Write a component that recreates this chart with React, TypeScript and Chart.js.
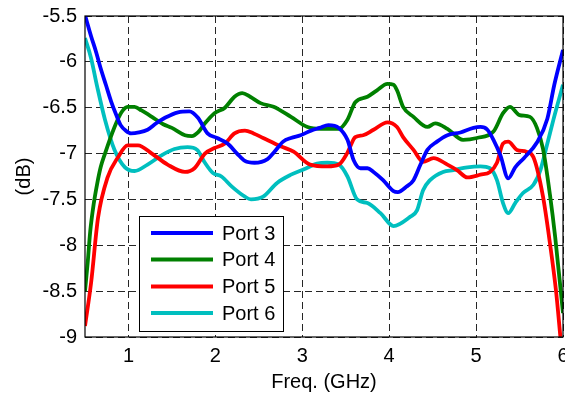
import React, { useEffect, useRef } from "react";
import { Chart, registerables } from "chart.js";

Chart.register(...registerables);

const xTickValues = [1, 2, 3, 4, 5, 6];
const yTickValues = [-9, -8.5, -8, -7.5, -7, -6.5, -6, -5.5];

const seriesLabels = ["Port 3", "Port 4", "Port 5", "Port 6"];
const seriesColors = ["#0000FF", "#008000", "#FF0000", "#00BFBF"];

const port3Freq = [0.5, 0.57, 0.63, 0.68, 0.74, 0.8, 0.86, 0.91, 0.97, 1.03, 1.12, 1.22, 1.32, 1.42, 1.57, 1.7, 1.8, 1.91, 2.02, 2.14, 2.25, 2.34, 2.45, 2.6, 2.68, 2.78, 2.87, 2.98, 3.1, 3.2, 3.3, 3.42, 3.52, 3.59, 3.67, 3.75, 3.82, 3.93, 4.05, 4.1, 4.2, 4.28, 4.36, 4.44, 4.55, 4.67, 4.82, 4.97, 5.05, 5.13, 5.2, 5.28, 5.37, 5.45, 5.55, 5.7, 5.82, 5.9, 6.0];
const port3Vals = [-5.49, -5.72, -5.9, -6.07, -6.25, -6.43, -6.58, -6.69, -6.75, -6.78, -6.77, -6.74, -6.67, -6.61, -6.55, -6.54, -6.61, -6.78, -6.83, -6.89, -7.0, -7.08, -7.1, -7.06, -6.98, -6.87, -6.83, -6.8, -6.75, -6.72, -6.69, -6.72, -6.85, -7.07, -7.16, -7.16, -7.2, -7.29, -7.41, -7.42, -7.36, -7.29, -7.12, -6.96, -6.87, -6.8, -6.77, -6.72, -6.71, -6.74, -6.85, -7.02, -7.27, -7.15, -7.05, -6.88, -6.62, -6.25, -5.87];

const port4Freq = [0.5, 0.53, 0.56, 0.6, 0.64, 0.68, 0.73, 0.84, 0.92, 0.99, 1.07, 1.15, 1.27, 1.4, 1.5, 1.65, 1.73, 1.8, 1.88, 1.99, 2.11, 2.22, 2.31, 2.4, 2.52, 2.67, 2.87, 3.06, 3.21, 3.42, 3.52, 3.61, 3.75, 3.86, 3.98, 4.05, 4.09, 4.16, 4.28, 4.44, 4.53, 4.67, 4.85, 5.01, 5.2, 5.31, 5.39, 5.5, 5.62, 5.7, 5.77, 5.85, 5.91, 6.0];
const port4Vals = [-8.5, -8.2, -7.85, -7.55, -7.33, -7.15, -7.0, -6.71, -6.55, -6.49, -6.49, -6.53, -6.6, -6.68, -6.72, -6.8, -6.81, -6.77, -6.67, -6.56, -6.5, -6.38, -6.34, -6.38, -6.45, -6.49, -6.6, -6.71, -6.73, -6.73, -6.63, -6.44, -6.38, -6.31, -6.24, -6.25, -6.31, -6.49, -6.6, -6.71, -6.67, -6.73, -6.85, -6.83, -6.76, -6.56, -6.49, -6.58, -6.6, -6.72, -6.95, -7.45, -7.91, -8.74];

const port5Freq = [0.5, 0.57, 0.65, 0.76, 0.88, 0.99, 1.11, 1.27, 1.45, 1.65, 1.76, 1.88, 1.99, 2.11, 2.22, 2.34, 2.44, 2.55, 2.75, 2.9, 3.09, 3.29, 3.42, 3.52, 3.61, 3.7, 3.82, 3.98, 4.09, 4.16, 4.28, 4.39, 4.51, 4.67, 4.78, 4.9, 5.05, 5.16, 5.24, 5.31, 5.37, 5.47, 5.58, 5.66, 5.77, 5.85, 5.92, 5.97];
const port5Vals = [-8.88, -8.41, -7.7, -7.26, -7.04, -6.91, -6.91, -7.0, -7.12, -7.2, -7.16, -7.0, -6.94, -6.89, -6.78, -6.75, -6.78, -6.83, -6.92, -6.98, -7.12, -7.14, -7.12, -6.99, -6.82, -6.8, -6.74, -6.66, -6.71, -6.82, -6.96, -7.09, -7.05, -7.12, -7.18, -7.26, -7.23, -7.2, -7.1, -6.89, -6.87, -6.96, -6.98, -7.04, -7.47, -7.98, -8.5, -9.0];

const port6Freq = [0.5, 0.57, 0.64, 0.73, 0.84, 0.96, 1.07, 1.22, 1.38, 1.53, 1.68, 1.79, 1.88, 1.97, 2.07, 2.19, 2.34, 2.41, 2.55, 2.71, 2.87, 3.02, 3.17, 3.29, 3.42, 3.52, 3.63, 3.75, 3.9, 4.05, 4.24, 4.32, 4.39, 4.47, 4.62, 4.74, 4.9, 5.05, 5.16, 5.24, 5.31, 5.37, 5.45, 5.54, 5.66, 5.74, 5.82, 5.89, 6.0];
const port6Vals = [-5.74, -5.96, -6.27, -6.63, -6.96, -7.15, -7.19, -7.12, -7.02, -6.95, -6.93, -6.96, -7.1, -7.21, -7.25, -7.36, -7.47, -7.5, -7.47, -7.32, -7.23, -7.17, -7.11, -7.1, -7.12, -7.25, -7.5, -7.54, -7.65, -7.79, -7.69, -7.62, -7.4, -7.29, -7.2, -7.18, -7.15, -7.14, -7.16, -7.29, -7.54, -7.65, -7.54, -7.43, -7.34, -7.18, -6.89, -6.63, -6.25];

const seriesFreq = [port3Freq, port4Freq, port5Freq, port6Freq];
const seriesVals = [port3Vals, port4Vals, port5Vals, port6Vals];

const FONT = "'Liberation Sans', Arial, sans-serif";
const FONT_SIZE = 20;

const framePlugin = {
  id: "frameAndLegend",
  afterDraw(chart: any) {
    const { ctx, chartArea } = chart;
    ctx.save();
    ctx.strokeStyle = "#000";
    ctx.lineWidth = 1.2;
    ctx.strokeRect(chartArea.left, chartArea.top, chartArea.right - chartArea.left, chartArea.bottom - chartArea.top);

    // legend box
    const bx = 139.5, by = 216.5, bw = 144, bh = 115;
    ctx.fillStyle = "#fff";
    ctx.fillRect(bx, by, bw, bh);
    ctx.lineWidth = 1;
    ctx.strokeRect(bx, by, bw, bh);
    const rowY = [233, 259.5, 286.5, 313];
    chart.data.datasets.forEach((ds: any, i: number) => {
      const y = rowY[i];
      ctx.strokeStyle = ds.borderColor;
      ctx.lineWidth = 4;
      ctx.beginPath();
      ctx.moveTo(151, y);
      ctx.lineTo(213, y);
      ctx.stroke();
      ctx.fillStyle = "#000";
      ctx.font = `${FONT_SIZE}px ${FONT}`;
      ctx.textBaseline = "middle";
      ctx.textAlign = "left";
      ctx.fillText(ds.label, 222, y + 1);
    });
    ctx.restore();
  },
};

export default function App() {
  const canvasRef = useRef<HTMLCanvasElement | null>(null);

  useEffect(() => {
    if (!canvasRef.current) return;
    const datasets = seriesLabels.map((label, i) => ({
      label,
      data: seriesFreq[i].map((x, j) => ({ x, y: seriesVals[i][j] })),
      borderColor: seriesColors[i],
      backgroundColor: seriesColors[i],
      borderWidth: 3.8,
      pointRadius: 0,
      cubicInterpolationMode: "monotone" as const,
      fill: false,
      clip: 0,
    }));
    const chart = new Chart(canvasRef.current, {
      type: "line",
      data: { datasets },
      options: {
        animation: false,
        responsive: true,
        maintainAspectRatio: false,
        layout: { padding: { top: 16, right: 2, left: 0, bottom: 0 } },
        plugins: { legend: { display: false }, tooltip: { enabled: false } },
        scales: {
          x: {
            type: "linear",
            min: 0.5,
            max: 6,
            afterBuildTicks: (scale: any) => {
              scale.ticks = xTickValues.map((v) => ({ value: v }));
            },
            afterFit: (scale: any) => {
              scale.height = 61;
              scale.paddingLeft = 0;
              scale.paddingRight = 0;
            },
            ticks: {
              color: "#000",
              font: { family: FONT, size: FONT_SIZE },
              padding: 7,
              maxRotation: 0,
              callback: (v: any) => String(v),
            },
            grid: { color: "rgba(0,0,0,0.85)", lineWidth: 1, drawTicks: false },
            border: { display: false, dash: [7, 4] },
            title: {
              display: true,
              text: "Freq. (GHz)",
              color: "#000",
              font: { family: FONT, size: FONT_SIZE },
              padding: { top: 0, bottom: 4 },
            },
          },
          y: {
            type: "linear",
            min: -9,
            max: -5.5,
            afterBuildTicks: (scale: any) => {
              scale.ticks = yTickValues.map((v) => ({ value: v }));
            },
            afterFit: (scale: any) => {
              scale.width = 85;
              scale.paddingTop = 0;
              scale.paddingBottom = 0;
            },
            ticks: {
              color: "#000",
              font: { family: FONT, size: FONT_SIZE },
              padding: 8,
              callback: (v: any) => String(v),
            },
            grid: { color: "rgba(0,0,0,0.85)", lineWidth: 1, drawTicks: false },
            border: { display: false, dash: [7, 4] },
            title: {
              display: true,
              text: "(dB)",
              color: "#000",
              font: { family: FONT, size: FONT_SIZE },
              padding: { top: 12, bottom: 0 },
            },
          },
        },
      },
      plugins: [framePlugin],
    });
    return () => chart.destroy();
  }, []);

  return (
    <div style={{ position: "fixed", left: 0, top: 0, width: 565, height: 398, background: "#fff" }}>
      <canvas ref={canvasRef} />
    </div>
  );
}
